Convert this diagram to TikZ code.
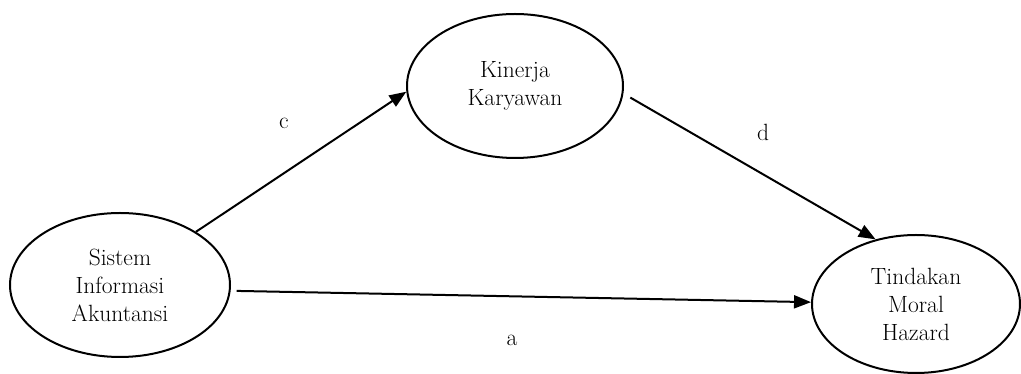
\documentclass[tikz,border=0pt]{standalone}
\usetikzlibrary{shapes.geometric,arrows.meta}
\begin{document}
\begin{tikzpicture}[x=1pt,y=1pt,
  var/.style={ellipse,draw,line width=2pt,inner sep=0pt,align=center,
    font=\fontsize{23.5}{28}\selectfont},
  lab/.style={font=\fontsize{23.5}{24}\selectfont},
  link/.style={line width=2pt,-{Triangle[length=17pt,width=13pt]}}]
\useasboundingbox (0,0) rectangle (1021,374);
\node[var,minimum width=220pt,minimum height=144pt] (S) at (120,89) {Sistem\\Informasi\\Akuntansi};
\node[var,minimum width=216pt,minimum height=144pt] (K) at (515,288) {Kinerja\\Karyawan};
\node[var,minimum width=208pt,minimum height=138pt] (T) at (916,70) {Tindakan\\Moral\\Hazard};
\draw[link] (S.35.5) -- (K.183.7);
\draw[link,shorten <=8pt] (K.-4.4) -- (T.122);
\draw[link,shorten <=6pt] (S.-3.5) -- (T.179);
\node[lab] (lc) at (284,251) {c};
\node[lab] (ld) at (763,242) {d};
\node[lab] (la) at (512,34) {a};
\end{tikzpicture}
\end{document}
